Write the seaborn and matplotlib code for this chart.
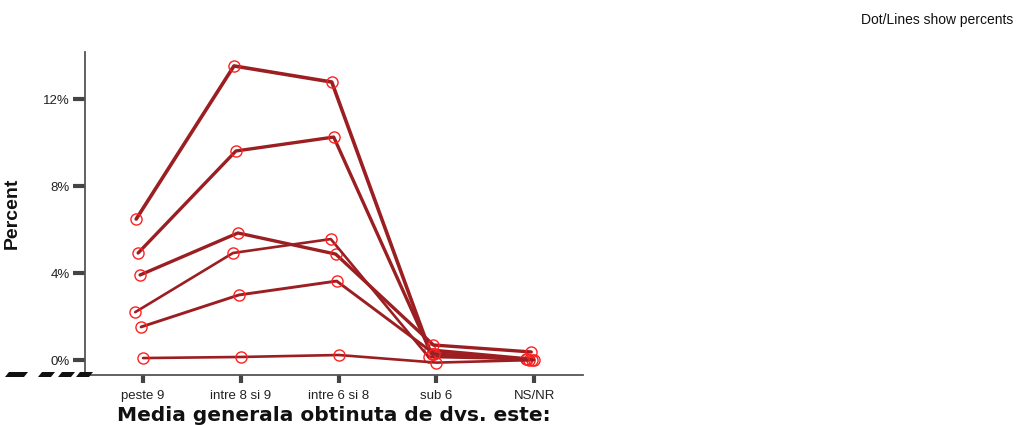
import matplotlib
matplotlib.use("Agg")
import matplotlib.pyplot as plt
from matplotlib.patches import Polygon
import seaborn as sns
import pandas as pd

# categories on the x axis
categories = ["peste 9", "intre 8 si 9", "intre 6 si 8", "sub 6", "NS/NR"]

# percent values per line
line_a = [6.48, 13.52, 12.78, 0.46, 0.05]
line_b = [4.92, 9.61, 10.25, 0.28, 0.00]
line_c = [3.91, 5.84, 4.87, 0.69, 0.37]
line_d = [2.20, 4.92, 5.56, 0.14, 0.05]
line_e = [1.52, 2.99, 3.63, 0.28, 0.02]
line_f = [0.09, 0.14, 0.23, -0.12, 0.00]

series = {"a": line_a, "b": line_b, "c": line_c,
          "d": line_d, "e": line_e, "f": line_f}

# small horizontal dodge per line (SPSS style) and line widths
dodge = {"a": -0.07, "b": -0.05, "c": -0.03, "d": -0.08, "e": -0.02, "f": 0.0}
widths = {"a": 2.6, "b": 2.4, "c": 2.4, "d": 1.9, "e": 2.1, "f": 1.9}

rows = []
for name, vals in series.items():
    for i, v in enumerate(vals):
        rows.append({"series": name, "cat": i, "pos": i + dodge[name], "pct": v})
df = pd.DataFrame(rows)

sns.set_style("white")
plt.rcParams["font.family"] = ["Liberation Sans", "DejaVu Sans"]

fig = plt.figure(figsize=(10.16, 4.25), dpi=100)
ax = fig.add_axes([0.0837, 0.1176, 0.4902, 0.76])

line_col = "#9b1f22"
for name in series:
    sns.lineplot(data=df[df.series == name], x="pos", y="pct", ax=ax,
                 color=line_col, linewidth=widths[name], marker="o",
                 markersize=8, markerfacecolor="none", markeredgecolor="#ff2020",
                 markeredgewidth=1.0, legend=False, zorder=3)

ax.set_xlim(-0.593, 4.50)
ax.set_ylim(-0.69, 14.16)
ax.set_xticks(range(len(categories)))
ax.set_xticklabels(categories)
ax.set_yticks([0, 4, 8, 12])
ax.set_yticklabels(["0%", "4%", "8%", "12%"])

for s in ["top", "right"]:
    ax.spines[s].set_visible(False)
for s in ["left", "bottom"]:
    ax.spines[s].set_color("#555555")
    ax.spines[s].set_linewidth(1.3)
ax.tick_params(axis="both", which="major", left=True, bottom=True,
               direction="out", width=3, color="#444444",
               labelsize=9.5, labelcolor="#222222")
ax.tick_params(axis="y", length=9, pad=2)
ax.tick_params(axis="x", length=6, pad=5)

ax.set_xlabel("Media generala obtinuta de dvs. este:", fontsize=14.5,
              fontweight="bold", family=["DejaVu Sans"], color="#111111")
ax.xaxis.set_label_coords(0.5, -0.095, transform=ax.transAxes)
ax.set_ylabel("Percent", fontsize=14, fontweight="bold", color="#111111")
ax.yaxis.set_label_coords(-0.13, 0.5)

fig.text(0.9975, 0.952, "Dot/Lines show percents", ha="right", va="center",
         fontsize=10, color="#111111")

# dark slanted marks at the lower left corner of the axes
W, H = 1016, 425
marks = [(5, 28), (38, 55), (58, 75), (76, 93)]
for x0, x1 in marks:
    pts = [(x0, 377), (x0 + 4, 372), (x1, 372), (x1 - 4, 377)]
    fig.patches.append(Polygon([(px / W, 1 - py / H) for px, py in pts],
                               closed=True, transform=fig.transFigure,
                               facecolor="#111111", edgecolor="none"))

fig.savefig("out.png", dpi=100)
